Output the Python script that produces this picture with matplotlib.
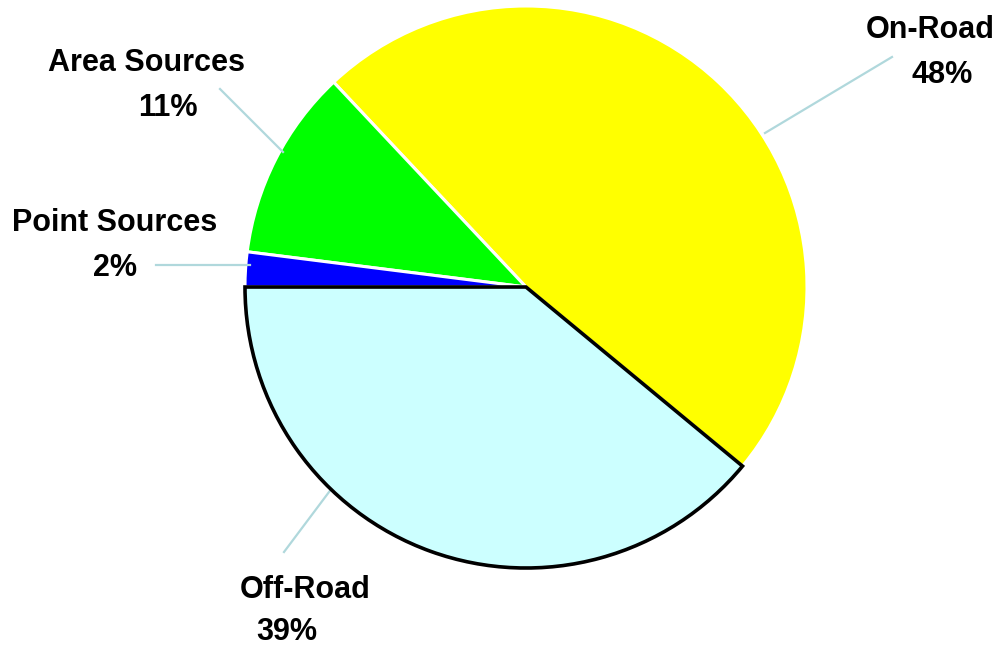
import matplotlib.pyplot as plt
from matplotlib import font_manager

# emission shares, counterclockwise from 9 o'clock
sources = ['Off-Road', 'On-Road', 'Area Sources', 'Point Sources']
shares = [39, 48, 11, 2]
colors = ['#CCFFFF', '#FFFF00', '#00FF00', '#0000FF']

names = [f.name for f in font_manager.fontManager.ttflist]
if 'Liberation Sans Narrow' in names:
    family, fsize = 'Liberation Sans Narrow', 25
else:
    # no narrow face: shrink a bit so the labels keep their width
    family, fsize = 'Liberation Sans', 22

W, H = 999, 649
fig = plt.figure(figsize=(W / 100, H / 100), dpi=100)
ax = fig.add_axes([0, 0, 1, 1])

wedges, _ = ax.pie(shares, colors=colors, startangle=180, counterclock=True,
                   center=(526, H - 287), radius=281, explode=[0.01, 0, 0, 0],
                   wedgeprops=dict(edgecolor='white', linewidth=2.2))
ax.set_xlim(0, W)
ax.set_ylim(0, H)
ax.set_aspect('equal')
ax.axis('off')
wedges[0].set_edgecolor('black')
wedges[0].set_linewidth(2.6)
wedges[0].set_zorder(3)

# label blocks: (name center x, name baseline, pct center x, pct baseline) in pixels
label_pos = {
    'On-Road': (930, 38, 942, 83),
    'Area Sources': (146, 71, 168, 116),
    'Point Sources': (115, 231, 115, 276),
    'Off-Road': (305, 598, 287, 640),
}
leaders = {
    'On-Road': ((892, 57), (765, 133)),
    'Area Sources': ((220, 89), (283, 152)),
    'Point Sources': ((156, 265), (250, 265)),
    'Off-Road': ((284, 552), (332, 488)),
}

for name, pct in zip(sources, shares):
    nx, ny, px, py = label_pos[name]
    ax.text(nx, H - ny, name, ha='center', va='baseline', fontsize=fsize,
            fontweight='bold', family=family)
    ax.text(px, H - py, f'{pct}%', ha='center', va='baseline', fontsize=fsize,
            fontweight='bold', family=family)
    (x0, y0), (x1, y1) = leaders[name]
    ax.plot([x0, x1], [H - y0, H - y1], color='#B0D8DC', lw=1.6, zorder=1)

fig.savefig('out.png', dpi=100)
